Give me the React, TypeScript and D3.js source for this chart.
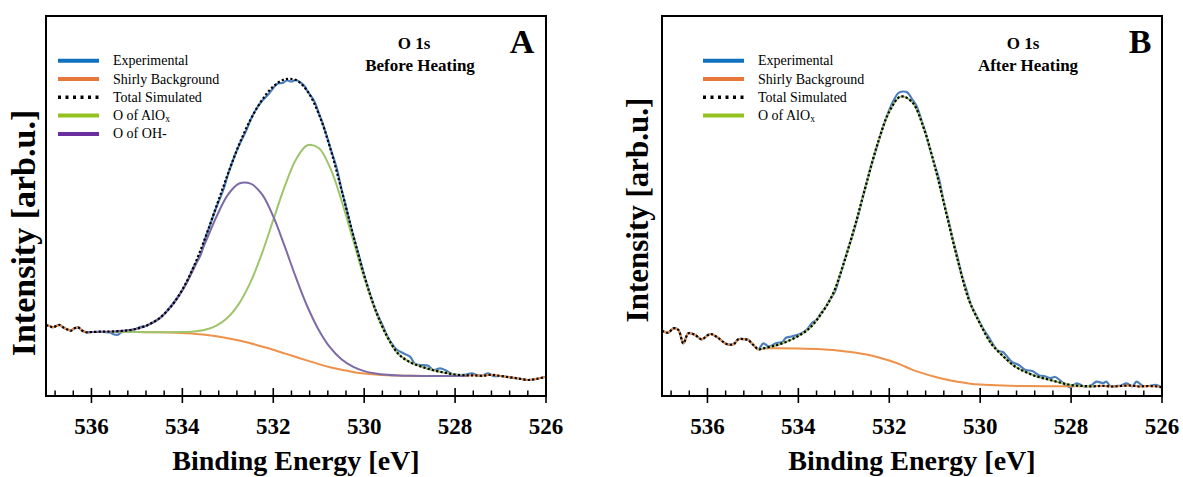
import React from 'react';
import * as d3 from 'd3';

type Pt = [number, number];

// ---------- Panel A (Before Heating) : [binding energy eV, intensity arb.u.] ----------
const aLeftNoise: Pt[] = [
  [537.0, 71], [536.9, 69.5], [536.85, 68.7], [536.75, 70.5], [536.7, 71], [536.6, 68],
  [536.5, 66], [536.45, 65.3], [536.4, 67], [536.3, 68.7], [536.2, 65.3], [536.1, 63.7],
];
const aRightNoise: Pt[] = [
  [527.6, 20.7], [527.4, 20.2], [527.2, 21.2], [527.0, 20], [526.8, 18.7], [526.6, 17.5],
  [526.4, 16], [526.2, 17.2], [526.0, 19.3],
];
const aTotalFit: Pt[] = [
  [536.0, 64], [535.75, 64.4], [535.5, 64.6], [535.25, 65.4], [535.0, 67.3], [534.75, 71.2],
  [534.5, 78], [534.25, 89.4], [534.0, 106.4], [533.75, 129.4], [533.5, 157.9], [533.25, 189.9],
  [533.0, 221.9], [532.75, 251.7], [532.5, 276.5], [532.25, 295.8], [532.0, 309.5], [531.75, 316.6],
  [531.5, 315.9], [531.25, 304.9], [531.0, 282.2], [530.75, 248.2], [530.5, 206.4], [530.25, 162.3],
  [530.0, 120.6], [529.75, 85.9], [529.5, 60], [529.25, 42.2], [529.0, 34], [528.75, 29.5],
  [528.5, 26], [528.25, 23.5], [528.0, 21.5], [527.75, 20.7],
];
const aShirlyFit: Pt[] = [
  [536.0, 64], [535.5, 64], [535.0, 63.9], [534.5, 63.7], [534.25, 63.5], [534.0, 63],
  [533.75, 62.3], [533.5, 61.2], [533.25, 59.7], [533.0, 57.8], [532.75, 55.4], [532.5, 52.7],
  [532.25, 49.5], [532.0, 46.2], [531.75, 42.6], [531.5, 39], [531.25, 35.4], [531.0, 31.9],
  [530.75, 28.8], [530.5, 26.2], [530.25, 24.1], [530.0, 22.5], [529.75, 21.5], [529.5, 20.8],
  [529.25, 20.4], [529.0, 20.2], [528.5, 20], [528.0, 20], [527.75, 20.2],
];
const aAlOxFit: Pt[] = [
  [536.1, 63.7], [536.0, 64], [535.5, 64], [535.0, 63.9], [534.5, 63.8], [534.0, 63.9],
  [533.75, 64.5], [533.5, 66.2], [533.25, 70.4], [533.0, 78.5], [532.75, 92.6], [532.5, 113.8],
  [532.25, 142.4], [532.0, 176.1], [531.75, 209.4], [531.5, 236.6], [531.25, 250.8], [531.0, 248],
  [530.75, 228.4], [530.5, 195.8], [530.25, 157], [530.0, 118.2], [529.75, 84.9], [529.5, 59.6],
  [529.25, 42.2], [529.0, 34], [528.75, 29.5], [528.5, 26], [528.25, 23.5], [528.0, 21.5],
  [527.75, 20.7],
];
const aOHFit: Pt[] = [
  [536.1, 63.7], [536.0, 64], [535.75, 64.2], [535.5, 64.6], [535.25, 65.4], [535.0, 67.3],
  [534.75, 71.2], [534.5, 77.9], [534.25, 89.1], [534.0, 105.5], [533.75, 127.2], [533.5, 152.9],
  [533.25, 179.2], [533.0, 201.2], [532.75, 212.5], [532.5, 212.4], [532.25, 201.9], [532.0, 179.6],
  [531.75, 149.8], [531.5, 118.3], [531.25, 89.5], [531.0, 66.1], [530.75, 48.6], [530.5, 36.8],
  [530.25, 29.4], [530.0, 24.9], [529.75, 22.5], [529.5, 21.2], [529.25, 20.5], [529.0, 20.2],
  [528.5, 20], [528.0, 20], [527.75, 20.2],
];
const aExpPeak: Pt[] = [
  [536.0, 64], [535.8, 64.2], [535.6, 63.5], [535.5, 61.5], [535.42, 61.2], [535.35, 63.5],
  [535.2, 65.2], [535.0, 67.5], [534.9, 69.5], [534.8, 70], [534.7, 72.5], [534.6, 74.5],
  [534.5, 77.5], [534.4, 82], [534.25, 90], [534.1, 99], [534.0, 106], [533.9, 114],
  [533.75, 129], [533.6, 141], [533.5, 157], [533.4, 170], [533.25, 189], [533.1, 206],
  [533.0, 221], [532.9, 234], [532.75, 251], [532.6, 265], [532.5, 276], [532.4, 285],
  [532.25, 295], [532.1, 302], [532.0, 308], [531.9, 312.5], [531.8, 313], [531.7, 315.5],
  [531.6, 314.5], [531.5, 316], [531.4, 313.5], [531.3, 309], [531.25, 305], [531.1, 295],
  [531.0, 283], [530.9, 271], [530.75, 249], [530.6, 227], [530.5, 207], [530.4, 189],
  [530.25, 162], [530.1, 138], [530.0, 121], [529.9, 106], [529.75, 86], [529.6, 71],
  [529.5, 60.5], [529.4, 53], [529.3, 47], [529.14, 42.7], [528.99, 39.3], [528.88, 32],
  [528.77, 31], [528.59, 30.3], [528.48, 26], [528.33, 27.7], [528.22, 26], [528.07, 22],
  [527.89, 21], [527.75, 21.5], [527.63, 22.7], [527.52, 20.7], [527.4, 20.5], [527.27, 22.7],
  [527.16, 20],
];

// ---------- Panel B (After Heating) ----------
const bLeftNoise: Pt[] = [
  [537.0, 65.3], [536.86, 63.3], [536.75, 67.7], [536.64, 66], [536.53, 52.7], [536.42, 62.7],
  [536.27, 61], [536.13, 56.7], [535.94, 62], [535.8, 59.3], [535.58, 52], [535.43, 51.7],
  [535.32, 56.7], [535.17, 56.7], [535.1, 56], [534.99, 51], [534.88, 46.7],
];
const bRightNoise: Pt[] = [
  [527.3, 10.2], [527.1, 9.5], [526.9, 10], [526.7, 10.5], [526.5, 9.5], [526.3, 10],
  [526.1, 9.5], [526.0, 8.7],
];
const bTotalFit: Pt[] = [
  [534.75, 47.9], [534.5, 50.5], [534.25, 54.5], [534.0, 60], [533.75, 68], [533.5, 82],
  [533.25, 101], [533.0, 133], [532.75, 171], [532.5, 213], [532.25, 253.3], [532.0, 284.3],
  [531.75, 299.4], [531.5, 294.1], [531.25, 269], [531.0, 230], [530.75, 183.5], [530.5, 137],
  [530.25, 96.3], [530.0, 72], [529.75, 52], [529.5, 40], [529.25, 30], [529.0, 24],
  [528.75, 19.5], [528.5, 16.5], [528.25, 13.5], [528.0, 11], [527.75, 10], [527.5, 9.7],
];
const bShirlyFit: Pt[] = [
  [534.75, 47.6], [534.5, 47.7], [534.0, 47.5], [533.5, 46.7], [533.0, 44.8], [532.5, 41.5],
  [532.25, 38.8], [532.0, 35.5], [531.75, 31.4], [531.5, 26.4], [531.25, 22.6], [531.0, 19.2],
  [530.75, 16.4], [530.5, 14.2], [530.25, 12.6], [530.0, 11.5], [529.5, 10.4], [529.0, 10],
  [528.0, 9.8], [527.5, 9.7],
];
const bExpPeak: Pt[] = [
  [534.77, 52.7], [534.65, 49.5], [534.48, 53], [534.35, 54], [534.28, 58], [534.15, 59.5],
  [534.0, 61.5], [533.9, 63.5], [533.8, 67], [533.7, 73], [533.6, 76], [533.5, 83],
  [533.4, 89], [533.3, 97], [533.2, 104], [533.1, 118], [533.0, 133], [532.9, 148],
  [532.8, 162], [532.7, 178], [532.6, 196], [532.5, 213], [532.4, 230], [532.3, 245],
  [532.2, 260], [532.1, 274], [532.0, 286], [531.9, 296], [531.8, 303], [531.7, 304.5],
  [531.6, 303.5], [531.5, 297], [531.4, 290], [531.3, 277], [531.2, 263], [531.1, 246],
  [531.0, 231], [530.9, 216], [530.8, 194], [530.7, 176], [530.6, 156], [530.5, 139],
  [530.4, 120], [530.3, 106], [530.2, 91], [530.1, 82], [529.93, 67], [529.8, 58],
  [529.71, 51], [529.6, 45], [529.5, 44], [529.4, 39], [529.3, 34], [529.15, 31],
  [529.0, 26], [528.85, 25], [528.7, 20.5], [528.6, 20], [528.45, 18], [528.35, 19],
  [528.2, 14], [528.13, 11], [528.01, 8.7], [527.88, 12.7], [527.69, 9.3], [527.55, 11],
  [527.44, 14.3], [527.3, 13], [527.22, 14.3], [527.14, 10], [527.0, 10], [526.9, 10.5],
  [526.78, 12.7], [526.65, 9.5], [526.56, 14.3], [526.42, 10], [526.3, 10], [526.12, 11],
  [526.01, 8.7],
];

const majorTicks = [536, 534, 532, 530, 528, 526];
const legendLabelsA = ['Experimental', 'Shirly Background', 'Total Simulated', 'O of AlOx', 'O of OH-'];
const legendLabelsB = ['Experimental', 'Shirly Background', 'Total Simulated', 'O of AlOx'];

const FONT = "'Liberation Serif', 'Times New Roman', Times, serif";
const C = {
  expL: '#1170BE', exp: '#4C7FBE',
  shirL: '#E8773A', shir: '#EE914B',
  grnL: '#93C11E', grn: '#9FC46C',
  purL: '#6C2E9E', pur: '#7D6BA8',
};

type PanelProps = {
  id: string; left: number;
  exp: Pt[]; shirly: Pt[]; total: Pt[]; green: Pt[]; purple?: Pt[];
  legend: string[]; legendX: number;
  t1: string; t2: string; t1x: number; t2x: number;
  letter: string; letterX: number; ylabCY: number; ylabX: number; ylabSize: number;
};

function LegendLabel({ s }: { s: string }) {
  if (s.endsWith('AlOx')) {
    return (<>{s.slice(0, -1)}<tspan fontSize={9.5} dy={2}>x</tspan></>);
  }
  return <>{s}</>;
}

function Panel(p: PanelProps) {
  const W = 500, top = 16, bottom = 396;
  const x = d3.scaleLinear().domain([537, 526]).range([p.left, p.left + W]);
  const y = d3.scaleLinear().domain([0, 380]).range([bottom, top]);
  const line = d3.line<Pt>().x(d => x(d[0])).y(d => y(d[1])).curve(d3.curveCatmullRom.alpha(0.5));
  const minor = d3.range(-2, 26).filter(k => k % 5 !== 0).map(k => 536 - 0.4 * k);
  const legendColors = [C.expL, C.shirL, '#000', C.grnL, C.purL];
  return (
    <g fontFamily={FONT}>
      <defs>
        <clipPath id={p.id}><rect x={p.left} y={top} width={W} height={bottom - top} /></clipPath>
      </defs>
      <g clipPath={`url(#${p.id})`} fill="none">
        <path d={line(p.exp) || ''} stroke={C.exp} strokeWidth={2.2} />
        <path d={line(p.shirly) || ''} stroke={C.shir} strokeWidth={2} />
        <path d={line(p.green) || ''} stroke={C.grn} strokeWidth={2} />
        {p.purple && <path d={line(p.purple) || ''} stroke={C.pur} strokeWidth={2} />}
        <path d={line(p.total) || ''} stroke="#000" strokeWidth={2.2} strokeDasharray="2.2,2.2" />
      </g>
      <rect x={p.left} y={top} width={W} height={bottom - top} fill="none" stroke="#000" strokeWidth={2} />
      {minor.map((v, i) => (
        <line key={'m' + i} x1={x(v)} x2={x(v)} y1={bottom} y2={bottom - 5.5} stroke="#000" strokeWidth={1.5} />
      ))}
      {majorTicks.map(v => (
        <g key={v}>
          <line x1={x(v)} x2={x(v)} y1={bottom + 7} y2={bottom - 8} stroke="#000" strokeWidth={1.6} />
          <text x={x(v)} y={434} textAnchor="middle" fontSize={23} fontWeight="bold">{v}</text>
        </g>
      ))}
      <text x={p.left + W / 2} y={470} textAnchor="middle" fontSize={28} fontWeight="bold">Binding Energy [eV]</text>
      <text transform={`translate(${p.ylabX},${p.ylabCY}) rotate(-90)`} textAnchor="middle" fontSize={p.ylabSize} fontWeight="bold">Intensity [arb.u.]</text>
      {p.legend.map((s, i) => {
        const ly = 60.7 + 18.3 * i;
        return (
          <g key={s}>
            <line x1={p.left + p.legendX} x2={p.left + p.legendX + 41} y1={ly} y2={ly}
              stroke={legendColors[i]} strokeWidth={i === 2 ? 3.5 : 4}
              strokeDasharray={i === 2 ? '3,4.5' : undefined} />
            <text x={p.left + p.legendX + 55} y={ly + 4.5} fontSize={14}><LegendLabel s={s} /></text>
          </g>
        );
      })}
      <text x={p.t1x} y={49} textAnchor="middle" fontSize={17} fontWeight="bold">{p.t1}</text>
      <text x={p.t2x} y={71} textAnchor="middle" fontSize={17} fontWeight="bold">{p.t2}</text>
      <text x={p.letterX} y={52.5} textAnchor="middle" fontSize={34} fontWeight="bold">{p.letter}</text>
    </g>
  );
}

export default function App() {
  const aExp = [...aLeftNoise, ...aExpPeak, ...aRightNoise.filter(d => d[0] < 527.1)];
  const aTot = [...aLeftNoise, ...aTotalFit, ...aRightNoise];
  const aShir = [...aLeftNoise, ...aShirlyFit, ...aRightNoise];
  const bExp = [...bLeftNoise, ...bExpPeak];
  const bTot = [...bLeftNoise, ...bTotalFit, ...bRightNoise];
  const bShir = [...bLeftNoise, ...bShirlyFit, ...bRightNoise];
  const bGreen = [bLeftNoise[bLeftNoise.length - 1], ...bTotalFit];
  return (
    <svg width={1183} height={477} style={{ position: 'absolute', left: 0, top: 0, background: '#fff' }}>
      <Panel id="clipA" left={46} exp={aExp} shirly={aShir} total={aTot} green={aAlOxFit} purple={aOHFit}
        legend={legendLabelsA} legendX={12} t1="O 1s" t2="Before Heating" t1x={414} t2x={420}
        letter="A" letterX={522} ylabCY={233} ylabX={35} ylabSize={34} />
      <Panel id="clipB" left={662} exp={bExp} shirly={bShir} total={bTot} green={bGreen}
        legend={legendLabelsB} legendX={41} t1="O 1s" t2="After Heating" t1x={1023} t2x={1028}
        letter="B" letterX={1140} ylabCY={210} ylabX={648} ylabSize={31} />
    </svg>
  );
}
